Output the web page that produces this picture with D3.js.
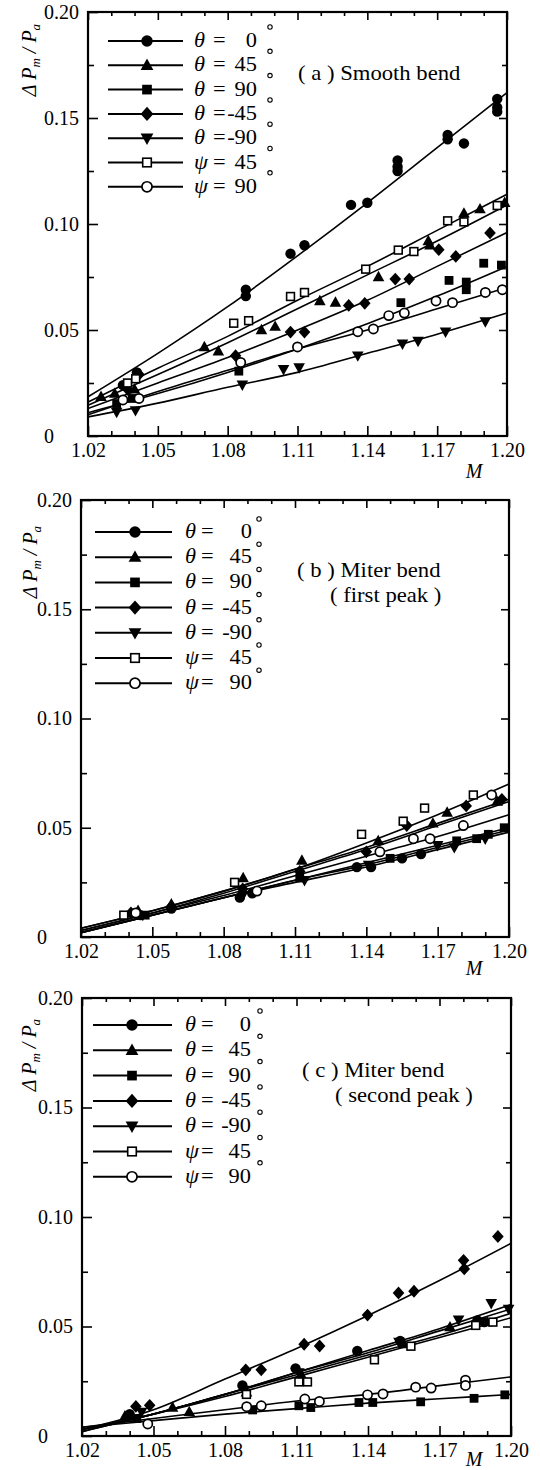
<!DOCTYPE html>
<html><head><meta charset="utf-8">
<script src="https://cdn.jsdelivr.net/npm/d3@7"></script>
<style>body{margin:0;background:#fff}svg{display:block}svg text{font-family:"Liberation Serif","Times New Roman",serif}</style>
</head><body><svg id="c" width="540" height="1470"></svg>
<script>
// ---------- shared axis / legend content ----------
const xMajorTicks = [1.02, 1.05, 1.08, 1.11, 1.14, 1.17, 1.20];
const xTickLabels = ["1.02", "1.05", "1.08", "1.11", "1.14", "1.17", "1.20"];
const xMinorTicks = [1.03,1.04,1.06,1.07,1.09,1.10,1.12,1.13,1.15,1.16,1.18,1.19];
const yMajorTicks = [0, 0.05, 0.10, 0.15, 0.20];
const yTickLabels = ["0", "0.05", "0.10", "0.15", "0.20"];
const yMinorTicks = [0.025, 0.075, 0.125, 0.175];
const seriesKeys = ["t0", "t45", "t90", "tm45", "tm90", "p45", "p90"];
const legendSymbols = ["θ", "θ", "θ", "θ", "θ", "ψ", "ψ"];
const legendValues = ["0", "45", "90", "-45", "-90", "45", "90"];
const markerKinds = ["disc", "tri", "sq", "dia", "triDown", "sqOpen", "circOpen"];
const panelTitles = [["( a ) Smooth bend"], ["( b ) Miter bend", "( first peak )"], ["( c ) Miter bend", "( second peak )"]];
const fitM = [1.02, 1.05, 1.08, 1.11, 1.14, 1.17, 1.20];

// ---------- panel (a) smooth bend: measured points [M, dPm/Pa] ----------
const A_t0 = [[1.035,0.024],[1.041,0.030],[1.0878,0.069],[1.0878,0.066],[1.107,0.086],[1.113,0.090],[1.133,0.109],[1.140,0.110],[1.153,0.130],[1.153,0.127],[1.153,0.125],[1.1745,0.142],[1.1745,0.140],[1.1815,0.138],[1.1958,0.159],[1.1958,0.155],[1.1958,0.153]];
const A_t45 = [[1.0256,0.0185],[1.0315,0.020],[1.040,0.022],[1.070,0.042],[1.076,0.040],[1.0945,0.050],[1.1004,0.0516],[1.1196,0.0637],[1.1263,0.063],[1.1448,0.075],[1.1662,0.092],[1.1669,0.090],[1.1815,0.105],[1.1884,0.107],[1.199,0.110]];
const A_t90 = [[1.0323,0.0153],[1.039,0.0177],[1.0848,0.0306],[1.1544,0.0629],[1.1751,0.0734],[1.1825,0.0726],[1.1825,0.069],[1.190,0.0815],[1.1976,0.0806]];
const A_tm45 = [[1.037,0.022],[1.0419,0.029],[1.0834,0.0379],[1.107,0.049],[1.113,0.049],[1.132,0.0616],[1.1389,0.0626],[1.152,0.074],[1.158,0.074],[1.1707,0.0879],[1.178,0.0847],[1.1927,0.0958]];
const A_tm90 = [[1.0323,0.0113],[1.0404,0.0121],[1.0863,0.0242],[1.104,0.0315],[1.1107,0.0323],[1.1359,0.0379],[1.1551,0.0435],[1.1618,0.0448],[1.1736,0.0492],[1.1907,0.054]];
const A_p45 = [[1.037,0.025],[1.0405,0.027],[1.0826,0.0532],[1.089,0.0544],[1.107,0.0658],[1.113,0.0677],[1.1393,0.0787],[1.1533,0.0877],[1.160,0.087],[1.1745,0.1015],[1.1815,0.101],[1.1958,0.1087]];
const A_p90 = [[1.035,0.017],[1.0419,0.0177],[1.0856,0.0347],[1.110,0.042],[1.1359,0.0492],[1.1426,0.0505],[1.1492,0.0568],[1.1559,0.058],[1.1695,0.0637],[1.1766,0.0629],[1.1907,0.0677],[1.198,0.069]];
// fitted curves, values at fitM
const FA_t0 = [0.0185, 0.039, 0.061, 0.085, 0.110, 0.136, 0.162];
const FA_t45 = [0.0145, 0.029, 0.044, 0.060, 0.076, 0.092, 0.109];
const FA_t90 = [0.011, 0.020, 0.030, 0.041, 0.053, 0.066, 0.080];
const FA_tm45 = [0.013, 0.025, 0.037, 0.050, 0.064, 0.080, 0.096];
const FA_tm90 = [0.009, 0.0155, 0.023, 0.030, 0.039, 0.048, 0.058];
const FA_p45 = [0.016, 0.032, 0.047, 0.064, 0.080, 0.097, 0.114];
const FA_p90 = [0.010, 0.021, 0.031, 0.041, 0.050, 0.060, 0.070];

// ---------- panel (b) miter bend, first peak ----------
const B_t0 = [[1.045,0.010],[1.058,0.013],[1.0868,0.018],[1.092,0.020],[1.136,0.032],[1.142,0.032],[1.155,0.036],[1.163,0.038]];
const B_t45 = [[1.044,0.012],[1.058,0.015],[1.0882,0.027],[1.1129,0.035],[1.145,0.044],[1.168,0.052],[1.174,0.057],[1.195,0.062]];
const B_t90 = [[1.047,0.010],[1.112,0.027],[1.150,0.036],[1.178,0.044],[1.1864,0.045],[1.1913,0.047],[1.198,0.050]];
const B_tm45 = [[1.041,0.011],[1.058,0.014],[1.088,0.022],[1.112,0.030],[1.140,0.039],[1.157,0.051],[1.182,0.060],[1.197,0.063]];
const B_tm90 = [[1.046,0.010],[1.088,0.019],[1.114,0.026],[1.141,0.033],[1.170,0.042],[1.177,0.041],[1.190,0.045]];
const B_p45 = [[1.038,0.010],[1.0846,0.025],[1.138,0.047],[1.1555,0.053],[1.1645,0.059],[1.185,0.065]];
const B_p90 = [[1.043,0.011],[1.094,0.021],[1.1457,0.039],[1.1598,0.045],[1.1668,0.045],[1.1808,0.051],[1.1927,0.065]];
const FB_t0 = [0.002, 0.010, 0.018, 0.026, 0.033, 0.041, 0.049];
const FB_t45 = [0.004, 0.012, 0.021, 0.031, 0.041, 0.052, 0.063];
const FB_t90 = [0.002, 0.010, 0.018, 0.026, 0.034, 0.042, 0.050];
const FB_tm45 = [0.003, 0.011, 0.020, 0.030, 0.040, 0.051, 0.062];
const FB_tm90 = [0.002, 0.010, 0.018, 0.025, 0.032, 0.040, 0.048];
const FB_p45 = [0.004, 0.012, 0.021, 0.031, 0.043, 0.056, 0.070];
const FB_p90 = [0.003, 0.011, 0.019, 0.028, 0.037, 0.046, 0.056];

// ---------- panel (c) miter bend, second peak ----------
const C_t0 = [[1.040,0.010],[1.0873,0.0231],[1.1096,0.0309],[1.1355,0.0388],[1.1535,0.0434],[1.1859,0.0528],[1.1888,0.052]];
const C_t45 = [[1.038,0.009],[1.058,0.013],[1.065,0.011],[1.089,0.020],[1.112,0.028],[1.155,0.042],[1.1744,0.0497],[1.190,0.052]];
const C_t90 = [[1.043,0.008],[1.0916,0.0119],[1.111,0.0138],[1.116,0.013],[1.1362,0.0153],[1.142,0.0153],[1.1621,0.0156],[1.1845,0.0172],[1.1974,0.0188]];
const C_tm45 = [[1.0426,0.0135],[1.0484,0.014],[1.0887,0.0302],[1.0952,0.0302],[1.1132,0.0419],[1.1197,0.0411],[1.1398,0.0552],[1.1528,0.0653],[1.1593,0.0661],[1.1801,0.0802],[1.1804,0.0763],[1.1945,0.0911]];
const C_tm90 = [[1.045,0.011],[1.088,0.021],[1.111,0.029],[1.153,0.043],[1.178,0.0531],[1.1917,0.0606],[1.199,0.058]];
const C_p45 = [[1.089,0.019],[1.111,0.0247],[1.1146,0.0247],[1.1427,0.0348],[1.158,0.041],[1.1852,0.0505],[1.1924,0.052]];
const C_p90 = [[1.0476,0.0055],[1.0891,0.0134],[1.0952,0.0138],[1.1135,0.0169],[1.1196,0.0158],[1.1398,0.0188],[1.1463,0.0192],[1.160,0.0223],[1.1665,0.0219],[1.1809,0.0255],[1.1809,0.0231]];
const FC_t0 = [0.002, 0.010, 0.019, 0.029, 0.038, 0.048, 0.058];
const FC_t45 = [0.003, 0.010, 0.019, 0.028, 0.037, 0.046, 0.056];
const FC_t90 = [0.004, 0.007, 0.010, 0.0125, 0.015, 0.017, 0.019];
const FC_tm45 = [0.003, 0.012, 0.026, 0.040, 0.055, 0.071, 0.088];
const FC_tm90 = [0.002, 0.010, 0.019, 0.029, 0.039, 0.049, 0.060];
const FC_p45 = [0.003, 0.010, 0.018, 0.027, 0.036, 0.045, 0.054];
const FC_p90 = [0.004, 0.008, 0.012, 0.016, 0.019, 0.023, 0.027];

// ---------- layout ----------
const FONT = "Liberation Serif";
const panels = [
  { box:{l:88,r:507,t:12,b:436},
    pts:[A_t0,A_t45,A_t90,A_tm45,A_tm90,A_p45,A_p90], fits:[FA_t0,FA_t45,FA_t90,FA_tm45,FA_tm90,FA_p45,FA_p90],
    leg:{x1:108,x2:183,mx:147,sx:194,ex:213,vx:257,dx:270,y0:41,dy:24.3,dd:-14},
    title:{x:298,y:80,dx2:0}, ylab:{x:36,y:60}, mlab:{x:474,y:478} },
  { box:{l:81,r:509,t:500,b:937},
    pts:[B_t0,B_t45,B_t90,B_tm45,B_tm90,B_p45,B_p90], fits:[FB_t0,FB_t45,FB_t90,FB_tm45,FB_tm90,FB_p45,FB_p90],
    leg:{x1:95,x2:172,mx:135,sx:185,ex:201,vx:252,dx:259,y0:532,dy:25.2,dd:-13},
    title:{x:297,y:577,dx2:33}, ylab:{x:37,y:562}, mlab:{x:474,y:975} },
  { box:{l:82,r:511,t:998,b:1436},
    pts:[C_t0,C_t45,C_t90,C_tm45,C_tm90,C_p45,C_p90], fits:[FC_t0,FC_t45,FC_t90,FC_tm45,FC_tm90,FC_p45,FC_p90],
    leg:{x1:93,x2:172,mx:132,sx:185,ex:201,vx:251,dx:260,y0:1025,dy:25.3,dd:-14},
    title:{x:302,y:1077,dx2:33}, ylab:{x:36,y:1055}, mlab:{x:474,y:1466} }
];

const svg = d3.select("#c");

function drawMarker(g, kind, x, y, k) {
  k = k || 1;
  const c = "#000";
  if (kind === "disc") g.append("circle").attr("cx",x).attr("cy",y).attr("r",5.2*k).attr("fill",c);
  else if (kind === "circOpen") g.append("circle").attr("cx",x).attr("cy",y).attr("r",4.6*k).attr("fill","#fff").attr("stroke",c).attr("stroke-width",1.7);
  else if (kind === "sq") g.append("rect").attr("x",x-4.4*k).attr("y",y-4.4*k).attr("width",8.8*k).attr("height",8.8*k).attr("fill",c);
  else if (kind === "sqOpen") g.append("rect").attr("x",x-3.9*k).attr("y",y-3.9*k).attr("width",7.8*k).attr("height",7.8*k).attr("fill","#fff").attr("stroke",c).attr("stroke-width",1.6);
  else if (kind === "tri") g.append("path").attr("d",`M${x},${y-6.2*k}L${x+5.8*k},${y+4.2*k}L${x-5.8*k},${y+4.2*k}Z`).attr("fill",c);
  else if (kind === "triDown") g.append("path").attr("d",`M${x},${y+6.2*k}L${x+5.8*k},${y-4.2*k}L${x-5.8*k},${y-4.2*k}Z`).attr("fill",c);
  else if (kind === "dia") g.append("path").attr("d",`M${x},${y-6.4*k}L${x+5.8*k},${y}L${x},${y+6.4*k}L${x-5.8*k},${y}Z`).attr("fill",c);
}

function addText(g, x, y, s, opts) {
  const t = g.append("text")
    .attr("transform", `translate(${x},${y}) scale(${opts.sx || 1},1)`)
    .style("font-family", FONT).style("font-size", (opts.size || 20) + "px")
    .attr("fill", "#000").text(s);
  if (opts.italic) t.style("font-style", "italic");
  if (opts.anchor) t.attr("text-anchor", opts.anchor);
  return t;
}

panels.forEach((p, pi) => {
  const b = p.box;
  const x = d3.scaleLinear().domain([1.02, 1.20]).range([b.l, b.r]);
  const y = d3.scaleLinear().domain([0, 0.20]).range([b.b, b.t]);
  const g = svg.append("g");

  // fitted curves
  const line = d3.line().x(d => x(d[0])).y(d => y(d[1])).curve(d3.curveMonotoneX);
  p.fits.forEach(f => {
    g.append("path").attr("d", line(fitM.map((m, i) => [m, f[i]])))
      .attr("fill","none").attr("stroke","#000").attr("stroke-width",1.6);
  });
  // measured points
  p.pts.forEach((arr, si) => {
    arr.forEach(d => drawMarker(g, markerKinds[si], x(d[0]), y(d[1])));
  });

  // axes (inward ticks)
  const axStyle = sel => { sel.attr("font-family", null); sel.select(".domain").remove(); sel.selectAll("line").attr("stroke","#000").attr("stroke-width",1.6); };
  g.append("g").attr("transform",`translate(0,${b.b})`).call(d3.axisBottom(x).tickValues(xMinorTicks).tickSize(-5).tickFormat("")).call(axStyle);
  const xb = g.append("g").attr("transform",`translate(0,${b.b})`)
    .call(d3.axisBottom(x).tickValues(xMajorTicks).tickSize(-10).tickPadding(7).tickFormat((d,i) => xTickLabels[i])).call(axStyle);
  xb.selectAll("text").style("font-family",FONT).style("font-size","20px").attr("fill","#000");
  g.append("g").attr("transform",`translate(0,${b.t})`).call(d3.axisTop(x).tickValues(xMinorTicks).tickSize(-4).tickFormat("")).call(axStyle);
  g.append("g").attr("transform",`translate(0,${b.t})`).call(d3.axisTop(x).tickValues(xMajorTicks).tickSize(-8).tickFormat("")).call(axStyle);

  g.append("g").attr("transform",`translate(${b.l},0)`).call(d3.axisLeft(y).tickValues(yMinorTicks).tickSize(-6).tickFormat("")).call(axStyle);
  const yl = g.append("g").attr("transform",`translate(${b.l},0)`)
    .call(d3.axisLeft(y).tickValues(yMajorTicks).tickSize(-10).tickFormat((d,i) => yTickLabels[i])).call(axStyle);
  yl.selectAll("text").style("font-family",FONT).style("font-size","20px").attr("fill","#000")
    .attr("text-anchor","start").attr("x",-44);
  g.append("g").attr("transform",`translate(${b.r},0)`).call(d3.axisRight(y).tickValues(yMinorTicks).tickSize(-5).tickFormat("")).call(axStyle);
  g.append("g").attr("transform",`translate(${b.r},0)`).call(d3.axisRight(y).tickValues(yMajorTicks.slice(1,4)).tickSize(-8).tickFormat("")).call(axStyle);

  g.append("rect").attr("x",b.l).attr("y",b.t).attr("width",b.r-b.l).attr("height",b.b-b.t)
    .attr("fill","none").attr("stroke","#000").attr("stroke-width",2.2);

  // legend
  const L = p.leg;
  seriesKeys.forEach((k, i) => {
    const ry = L.y0 + i * L.dy;
    g.append("line").attr("x1",L.x1).attr("x2",L.x2).attr("y1",ry).attr("y2",ry).attr("stroke","#000").attr("stroke-width",2);
    drawMarker(g, markerKinds[i], L.mx, ry, 1.1);
    addText(g, L.sx, ry+6, legendSymbols[i], {italic:true, sx:1.12});
    addText(g, L.ex, ry+6, "=", {sx:1.12});
    addText(g, L.vx, ry+6, legendValues[i], {anchor:"end", sx:1.12});
    g.append("circle").attr("cx",L.dx).attr("cy",ry+L.dd).attr("r",2.2).attr("fill","none").attr("stroke","#000").attr("stroke-width",1.1);
  });

  // panel title
  const T = p.title;
  panelTitles[pi].forEach((s, j) => {
    addText(g, T.x + j*T.dx2, T.y + j*25, s, {size:21, sx:1.08});
  });

  // y-axis label  ΔPm / Pa
  const yt = g.append("text").attr("transform",`translate(${p.ylab.x},${p.ylab.y}) rotate(-90)`)
    .attr("text-anchor","middle").style("font-family",FONT).style("font-size","20px").style("font-style","italic");
  yt.append("tspan").text("Δ P");
  yt.append("tspan").attr("dy",4).style("font-size","13px").text("m");
  yt.append("tspan").attr("dy",-4).text(" / P");
  yt.append("tspan").attr("dy",4).style("font-size","13px").text("a");

  // M label
  addText(g, p.mlab.x, p.mlab.y, "M", {italic:true, anchor:"middle"});
});
</script>
</body></html>
